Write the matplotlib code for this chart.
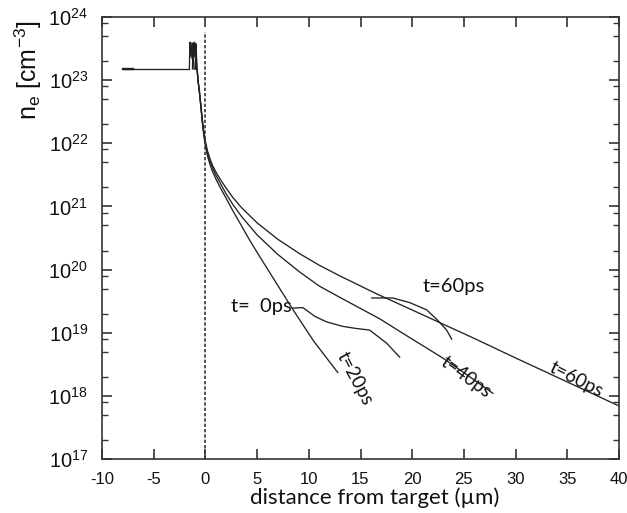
import numpy as np
import matplotlib
matplotlib.use("Agg")
import matplotlib.pyplot as plt
from matplotlib.ticker import LogLocator, FixedLocator, FuncFormatter, NullFormatter

plt.rcParams["mathtext.fontset"] = "custom"
plt.rcParams["mathtext.rm"] = "Liberation Sans"
plt.rcParams["mathtext.it"] = "Liberation Sans"

# ---- data (x in micrometres, density in cm^-3) ----
flat_x = [-8.0, -1.55]
flat_y = [1.5e23, 1.5e23]
thick_x = [-8.0, -7.0]
thick_y = [1.5e23, 1.5e23]

spike_x1 = [-1.55, -1.5, -1.46, -1.38, -1.3, -1.22, -1.15, -1.1, -0.8]
spike_y1 = [1.5e23, 4.0e23, 2.4e23, 3.9e23, 2.2e23, 3.8e23, 2.0e23, 1.5e23, 1.5e23]
spike_x2 = [-1.25, -1.2, -1.13, -1.05, -0.98, -0.92, -0.85, -0.8]
spike_y2 = [1.5e23, 3.9e23, 2.5e23, 4.0e23, 2.3e23, 3.6e23, 1.6e23, 1.5e23]
spike_x3 = [-0.98, -0.93, -0.87, -0.8]
spike_y3 = [1.5e23, 3.8e23, 2.6e23, 1.5e23]

lg = lambda vals: [10.0 ** v for v in vals]

t20_x = [-0.72, -0.6, -0.45, -0.3, -0.15, 0.0, 0.2, 0.45, 0.72, 1.0, 1.4, 2.0, 2.66, 3.5,
         4.3, 5.5, 6.5, 8.45, 10.5, 12.8]
t20_y = lg([23.0, 22.84, 22.6, 22.33, 22.12, 21.96, 21.8, 21.66, 21.54, 21.44, 21.31, 21.13,
            20.93, 20.69, 20.46, 20.14, 19.88, 19.37, 18.86, 18.37])

t40_x = [-0.72, -0.6, -0.45, -0.3, -0.15, 0.0, 0.2, 0.45, 0.72, 1.0, 1.4, 2.0, 2.66, 3.5,
         5.0, 7.0, 9.13, 11.0, 13.0, 16.86, 19.0, 22.95, 25.5, 27.8]
t40_y = lg([23.0, 22.85, 22.61, 22.36, 22.15, 22.0, 21.85, 21.72, 21.6, 21.5, 21.38, 21.2,
            21.03, 20.84, 20.55, 20.24, 19.96, 19.74, 19.56, 19.22, 19.0, 18.6, 18.31, 18.04])

t60_x = [-0.72, -0.6, -0.45, -0.3, -0.15, 0.0, 0.2, 0.45, 0.72, 1.0, 1.4, 2.0, 2.66, 3.5,
         5.0, 7.0, 9.13, 11.0, 13.0, 16.5, 20.0, 22.66, 26.0, 30.0, 35.0, 40.0]
t60_y = lg([23.0, 22.85, 22.62, 22.38, 22.18, 22.03, 21.88, 21.75, 21.64, 21.55, 21.44, 21.29,
            21.14, 20.98, 20.74, 20.48, 20.25, 20.07, 19.9, 19.62, 19.36, 19.16, 18.91, 18.6,
            18.22, 17.84])

w0_x = [8.45, 9.42, 10.58, 11.74, 13.29, 14.54, 15.89, 17.54, 18.79]
w0_y = [2.45e19, 2.5e19, 1.82e19, 1.48e19, 1.26e19, 1.17e19, 1.1e19, 6.8e18, 4.1e18]

w60_x = [16.09, 18.12, 19.76, 21.4, 22.46, 23.33, 23.82]
w60_y = [3.55e19, 3.55e19, 3.0e19, 2.3e19, 1.58e19, 1.1e19, 7.9e18]

xticks = [-10, -5, 0, 5, 10, 15, 20, 25, 30, 35, 40]
yticks = [1e17, 1e18, 1e19, 1e20, 1e21, 1e22, 1e23, 1e24]

LC = "#222222"

fig = plt.figure(figsize=(6.27, 5.13), dpi=100)
ax = fig.add_axes([102/627, 1-459/513, 517/627, 442/513])
ax.set_yscale("log")
ax.set_xlim(-10, 40)
ax.set_ylim(1e17, 1e24)

lw = 0.95
kw = dict(color=LC, lw=lw, solid_joinstyle="round")
ax.plot(flat_x, flat_y, **kw)
ax.plot(thick_x, thick_y, color=LC, lw=1.7)
for (sx, sy), (cx, cy) in zip([(spike_x1, spike_y1), (spike_x2, spike_y2), (spike_x3, spike_y3)],
                              [(t20_x, t20_y), (t40_x, t40_y), (t60_x, t60_y)]):
    ax.plot(list(sx) + list(cx), list(sy) + list(cy), **kw)
ax.plot(w0_x, w0_y, **kw)
ax.plot(w60_x, w60_y, **kw)

ax.plot([0, 0], [1e17, 5.8e23], color="#333333", lw=1.2, dashes=(2.0, 1.2))

# ticks
ax.xaxis.set_major_locator(FixedLocator(xticks))
ax.set_xticklabels(["%d" % v for v in xticks])
ax.yaxis.set_major_locator(FixedLocator(yticks))
ax.yaxis.set_minor_locator(LogLocator(base=10, subs=(2.0, 5.0, 8.0), numticks=20))
ax.yaxis.set_minor_formatter(NullFormatter())
ax.yaxis.set_major_formatter(FuncFormatter(lambda v, p: r"$\mathregular{10^{%d}}$" % round(np.log10(v))))
ax.tick_params(axis="both", which="both", direction="in", top=True, right=True, color="#333333")
ax.tick_params(axis="x", which="major", length=7, width=1.2, labelsize=12, pad=9)
ax.tick_params(axis="y", which="major", length=7, width=1.2, labelsize=14.5, pad=10)
ax.tick_params(axis="y", which="minor", length=4, width=1.0)
for lab in ax.get_xticklabels() + ax.get_yticklabels():
    lab.set_fontfamily("Liberation Sans")
    lab.set_color("#111111")
for s in ax.spines.values():
    s.set_linewidth(1.2)
    s.set_color("#333333")

# labels
fig.text(28/627, 1-70/513, r"n$_\mathregular{e}$ [cm$^\mathregular{-3}$]", rotation=90,
         ha="center", va="center", fontsize=18, family="Liberation Sans", color="#111111")
fig.text(375/627, 1-498/513, "distance from target (µm)", ha="center", va="center",
         fontsize=16, family="Lato", color="#111111")

tf = dict(family="Lato", color="#111111", fontsize=14.5)
ax.text(5.4, 2.6e19, "t=  0ps", ha="center", va="center", **tf)
ax.text(24.0, 5.4e19, "t=60ps", ha="center", va="center", **tf)
rf = dict(family="Lato", color="#111111", fontsize=13.5)
ax.text(14.45, 1.9e18, "t=20ps", ha="center", va="center", rotation=-62, **rf)
ax.text(25.2, 1.95e18, "t=40ps", ha="center", va="center", rotation=-36, **rf)
ax.text(35.9, 1.8e18, "t=60ps", ha="center", va="center", rotation=-27, **rf)

fig.savefig("out.png", dpi=100)
